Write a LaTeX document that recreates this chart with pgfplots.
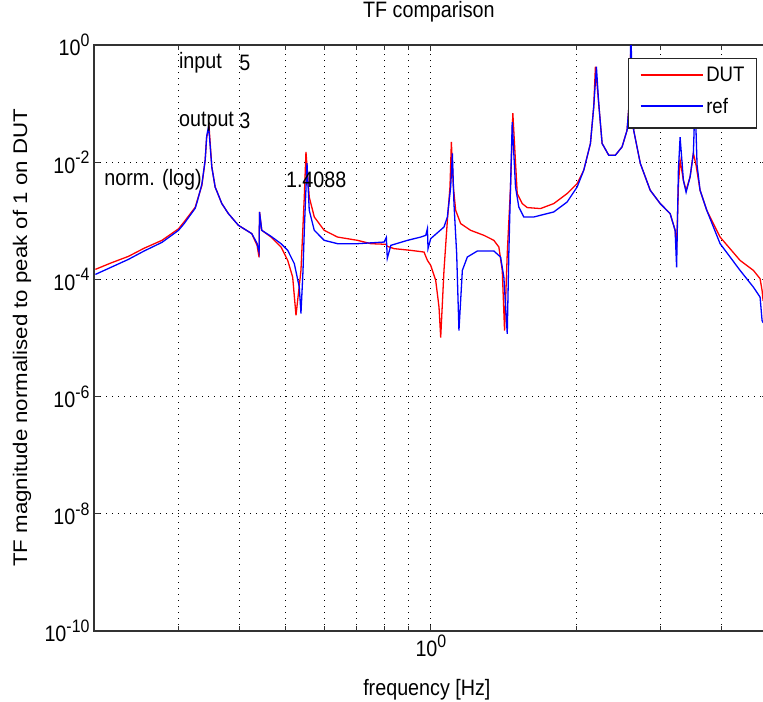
\documentclass[border=0pt]{standalone}
\usepackage{fontspec}
\setmainfont{Liberation Sans}
\newfontfamily\hfont[FakeStretch=0.885]{Liberation Sans}
\newfontfamily\vfont[FakeStretch=1.13]{Liberation Sans}
\usepackage{pgfplots}
\usepackage{pgfplotstable}
\pgfplotsset{compat=1.18}
\newcommand\fs{\hfont\fontsize{22.3}{25}\selectfont}
\newcommand\lfs{\hfont\fontsize{21}{23}\selectfont}
\newcommand\supx[1]{\raisebox{0.42em}{\fontsize{18}{20}\selectfont #1}}

\pgfplotstableread{
f m
0.2013 1.483e-4
0.2166 1.90e-4
0.2357 2.472e-4
0.2540 3.40e-4
0.2767 4.642e-4
0.2995 7.30e-4
0.3074 9.54e-4
0.3243 1.702e-3
0.3276 2.24e-3
0.3348 4.0e-3
0.3401 1.081e-2
0.3426 2.71e-2
0.3467 3.81e-2
0.3511 8.31e-3
0.3567 3.78e-3
0.3683 1.968e-3
0.3800 1.327e-3
0.3986 8.38e-4
0.4249 6.04e-4
0.4358 3.81e-4
0.4400 2.38e-4
0.4410 1.414e-3
0.4457 6.88e-4
0.4659 5.28e-4
0.4887 3.57e-4
0.5045 2.11e-4
0.5166 1.095e-4
0.5249 2.43e-5
0.5375 1.426e-4
0.5461 2.55e-3
0.5505 1.50e-2
0.5592 2.55e-3
0.5728 1.161e-3
0.6006 6.88e-4
0.6401 5.28e-4
0.7043 4.64e-4
0.7504 4.07e-4
0.8064 3.97e-4
0.8119 3.67e-4
0.8386 3.35e-4
0.9083 3.13e-4
0.9676 2.93e-4
0.9834 2.11e-4
0.9990 1.735e-4
1.0231 9.61e-5
1.0394 3.36e-5
1.0478 1.020e-5
1.0644 1.426e-4
1.0818 1.020e-3
1.0953 3.78e-3
1.1026 2.22e-2
1.1132 3.78e-3
1.1255 1.511e-3
1.1527 8.95e-4
1.2089 6.88e-4
1.2881 5.65e-4
1.3509 4.64e-4
1.3835 3.57e-4
1.4061 1.426e-4
1.4216 1.343e-5
1.4400 2.75e-4
1.4628 3.78e-3
1.4790 6.88e-2
1.5103 2.92e-3
1.5468 1.968e-3
1.5841 1.682e-3
1.6879 1.617e-3
1.7983 1.968e-3
1.9171 2.92e-3
2.0110 4.32e-3
2.0753 7.30e-3
2.1427 2.09e-2
2.1767 8.82e-2
2.1944 0.4256
2.2292 0.1008
2.2656 2.09e-2
2.3381 1.318e-2
2.4141 1.318e-2
2.4925 1.827e-2
2.5526 3.52e-2
2.5844 0.1306
2.5992 1.0
2.6341 3.52e-2
2.7196 9.50e-3
2.8510 3.32e-3
2.9902 1.968e-3
3.1357 1.327e-3
3.2113 6.88e-4
3.2344 3.52e-4
3.2622 4.04e-3
3.2888 1.081e-2
3.3410 4.92e-3
3.3843 3.32e-3
3.4494 5.61e-3
3.5041 1.425e-2
3.5494 8.89e-3
3.6178 3.32e-3
3.7354 1.511e-3
3.9811 5.28e-4
4.3798 2.11e-4
4.6672 1.426e-4
4.8189 1.028e-4
4.8651 6.49e-5
4.8883 4.38e-5
4.95 4.0e-5
}\dut

\pgfplotstableread{
f m
0.2013 1.217e-4
0.2166 1.60e-4
0.2357 2.196e-4
0.2540 3.05e-4
0.2767 4.287e-4
0.2995 6.88e-4
0.3074 8.90e-4
0.3243 1.636e-3
0.3276 2.15e-3
0.3348 4.21e-3
0.3401 1.081e-2
0.3426 2.80e-2
0.3458 4.12e-2
0.3511 8.31e-3
0.3567 3.78e-3
0.3683 1.968e-3
0.3800 1.327e-3
0.3986 8.38e-4
0.4249 6.04e-4
0.4358 4.12e-4
0.4400 2.90e-4
0.4410 1.414e-3
0.4457 6.88e-4
0.4659 5.43e-4
0.4887 4.07e-4
0.5045 3.13e-4
0.5207 1.855e-4
0.5332 7.38e-5
0.5375 2.62e-5
0.5428 1.426e-4
0.5461 6.88e-4
0.5532 9.62e-3
0.5592 1.511e-3
0.5728 6.88e-4
0.6006 4.64e-4
0.6401 4.07e-4
0.7043 4.07e-4
0.7999 4.34e-4
0.8082 5.22e-4
0.8119 2.29e-4
0.8256 3.81e-4
0.8940 4.64e-4
0.9526 5.28e-4
0.9755 5.65e-4
0.9834 7.36e-4
0.9863 3.35e-4
0.9990 4.96e-4
1.0644 7.83e-4
1.0818 1.161e-3
1.0990 3.78e-3
1.1079 1.41e-2
1.1164 1.968e-3
1.1309 2.75e-4
1.1433 1.343e-5
1.1620 1.426e-4
1.1900 2.41e-4
1.2482 3.05e-4
1.3509 3.05e-4
1.3947 2.41e-4
1.4169 1.095e-4
1.4400 1.180e-5
1.4510 2.75e-4
1.4628 3.78e-3
1.4747 4.83e-2
1.4981 3.78e-3
1.5219 1.722e-3
1.5587 1.161e-3
1.6348 1.161e-3
1.6879 1.242e-3
1.7983 1.414e-3
1.9171 2.095e-3
2.0110 3.78e-3
2.0753 7.30e-3
2.1427 2.09e-2
2.1767 8.82e-2
2.2049 0.4256
2.2292 0.1008
2.2656 2.09e-2
2.3381 1.318e-2
2.4141 1.318e-2
2.4925 1.827e-2
2.5526 3.52e-2
2.5844 0.1306
2.5992 1.5
2.6341 3.52e-2
2.7196 9.50e-3
2.8510 3.32e-3
2.9902 1.968e-3
3.1357 1.327e-3
3.2113 6.88e-4
3.2344 1.603e-4
3.2622 7.30e-3
3.2888 2.68e-2
3.3410 4.92e-3
3.3843 3.07e-3
3.4494 5.61e-3
3.5041 1.425e-2
3.5326 0.1148
3.5664 8.89e-3
3.6178 3.32e-3
3.7354 1.511e-3
3.9811 4.07e-4
4.3798 1.426e-4
4.6672 7.38e-5
4.8189 4.98e-5
4.8651 1.99e-5
4.8883 1.84e-5
4.95 1.7e-5
}\reff

\begin{document}
\begin{tikzpicture}
\begin{axis}[
  xmode=log, ymode=log,
  scale only axis, width=673.8pt, height=586pt,
  xmin=0.2, xmax=5, ymin=1e-10, ymax=1,
  xtick={1}, xticklabels={10\supx{0}},
  minor xtick={0.3,0.4,0.5,0.6,0.7,0.8,0.9,2,3,4},
  ytick={1e-10,1e-8,1e-6,1e-4,1e-2,1},
  yticklabels={10\supx{-10},10\supx{-8},10\supx{-6},10\supx{-4},10\supx{-2},10\supx{0}},
  yminorticks=false,
  grid=both,
  major grid style={black, line width=0.9pt, dash pattern=on 1pt off 5pt},
  minor grid style={black, line width=0.9pt, dash pattern=on 1pt off 5pt},
  tick align=inside,
  major tick length=6pt, minor tick length=5pt,
  axis line style={black!80, line width=1.2pt},
  every tick/.style={black!80, line width=0.9pt},
  tick label style={font=\fs},
  yticklabel style={xshift=-1pt},
  every axis x label/.style={at={(rel axis cs:0.494,-0.1007)}, anchor=center, font=\fs},
  every axis y label/.style={at={(rel axis cs:-0.107,0.5)}, rotate=90, anchor=center, font=\vfont\fontsize{19.7}{22}\selectfont},
  title style={at={(rel axis cs:0.497,1.046)}, anchor=center, font=\fs},
  title={TF comparison},
  xlabel={frequency [Hz]},
  ylabel={TF magnitude normalised to peak of 1 on DUT},
  legend style={at={(rel axis cs:0.9835,0.9766)}, anchor=north east, draw=none, fill=none,
    inner xsep=10pt, inner ysep=6pt, row sep=11pt,
    /tikz/every even column/.append style={column sep=4pt}},
  legend cell align=left,
  legend image code/.code={\draw[#1] (0pt,0pt) -- (63pt,0pt);},
]
\addplot[red, line width=1.3pt, forget plot] table[x=f,y=m]{\dut};
\addplot[blue, line width=1.3pt, forget plot] table[x=f,y=m]{\reff};
\draw[black!85, line width=1.1pt, fill=white] (rel axis cs:0.793,0.8584) rectangle (rel axis cs:0.9835,0.9766);
\addlegendimage{red, line width=1.6pt}
\addlegendentry{\lfs DUT}
\addlegendimage{blue, line width=1.6pt}
\addlegendentry{\lfs ref}
\node[anchor=west, inner sep=0pt, font=\fs] at (axis cs:0.3,0.5) {input};
\node[anchor=west, inner sep=0pt, font=\fs] at (axis cs:0.4,0.5) {5};
\node[anchor=west, inner sep=0pt, font=\fs] at (axis cs:0.3,0.05) {output};
\node[anchor=west, inner sep=0pt, font=\fs] at (axis cs:0.4,0.05) {3};
\node[anchor=west, inner sep=0pt, font=\fs] at (axis cs:0.21,0.005) {norm. (log)};
\node[anchor=west, inner sep=0pt, font=\fs] at (axis cs:0.5,0.005) {1.4088};
\coordinate (BL) at (rel axis cs:-0.13955,-0.12116);
\coordinate (TR) at (rel axis cs:0.99288,1.07679);
\end{axis}
\pgfresetboundingbox
\useasboundingbox (BL) rectangle (TR);
\end{tikzpicture}
\end{document}
